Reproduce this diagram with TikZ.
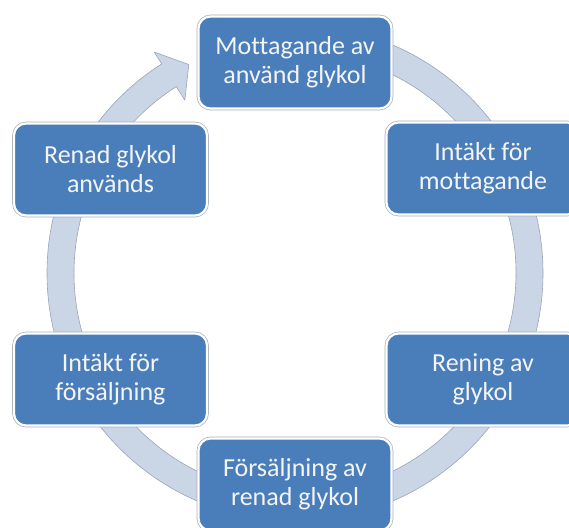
\documentclass[tikz,border=0pt]{standalone}
\usepackage{fontspec}
\setmainfont[Ligatures=NoCommon]{Carlito}
\definecolor{boxblue}{HTML}{4A7EBB}
\definecolor{ringfill}{HTML}{CAD5E6}
\definecolor{ringedge}{HTML}{9AA6B6}
\definecolor{boxedge}{HTML}{A8B0BA}
\definecolor{boxtext}{HTML}{F4F4F4}
\tikzset{
  stepbox/.style={rounded corners=12pt, fill=boxblue, draw=white, line width=2.2pt,
    preaction={draw=boxedge, line width=3.6pt},
    minimum width=193pt, minimum height=92pt, inner sep=0pt,
    text=boxtext, align=center, font=\fontsize{26}{29}\selectfont},
  ring/.style={fill=ringfill, draw=ringedge, line width=0.6pt, line join=round}
}
\begin{document}
\begin{tikzpicture}[x=1pt,y=1pt]
\clip (0,0) rectangle (569,527);
\fill[white] (0,0) rectangle (569,527);
% cycle ring with arrow head
\begin{scope}[shift={(295,254)}]
\draw[ring] (90:248) arc[start angle=90, end angle=-237.5, radius=248]
  -- (-237.5:262) -- (-243:234) -- (-237.5:205) -- (-237.5:221)
  arc[start angle=-237.5, end angle=90, radius=221] -- cycle;
\end{scope}
\node[stepbox] (a) at (295,464.5) {Mottagande av\\använd glykol};
\node[stepbox] (b) at (483,358.5) {Intäkt för\\mottagande};
\node[stepbox] (c) at (483,147.5) {Rening av\\glykol};
\node[stepbox] (d) at (295,42.5) {Försäljning av\\renad glykol};
\node[stepbox] (e) at (110.5,147.5) {Intäkt för\\försäljning};
\node[stepbox] (f) at (110.5,357.5) {Renad glykol\\används};
\end{tikzpicture}
\end{document}
